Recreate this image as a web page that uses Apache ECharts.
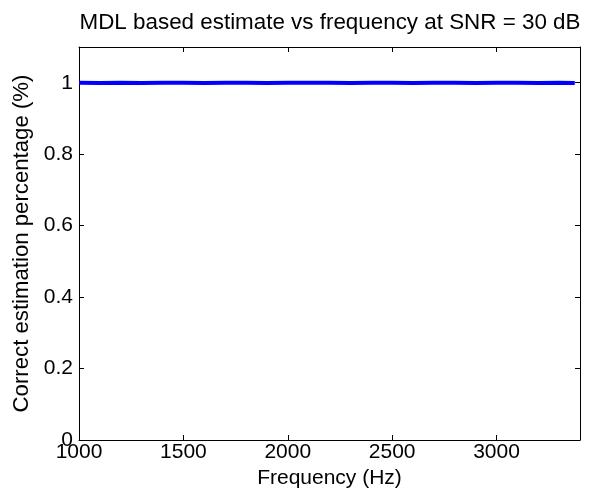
<!DOCTYPE html>
<html>
<head>
<meta charset="utf-8">
<script src="https://cdn.jsdelivr.net/npm/echarts@6/dist/echarts.min.js"></script>
<style>html,body{margin:0;padding:0;background:#fff;}#c{width:592px;height:496px;}</style>
</head>
<body>
<div id="c"></div>
<script>
var frequencies = [1000,1100,1200,1300,1400,1500,1600,1700,1800,1900,2000,2100,2200,2300,2400,2500,2600,2700,2800,2900,3000,3100,3200,3300,3375];
var estimates = [1,0.999,1,0.999,1,1,0.999,1,1,0.999,1,1,1,0.999,1,1,0.999,1,1,0.999,1,1,0.999,1,0.999];
var xTicks = [1000,1500,2000,2500,3000];
var yTicks = [0,0.2,0.4,0.6,0.8,1];

var chart = echarts.init(document.getElementById('c'));
var font = 'Liberation Sans, Arial, sans-serif';
var data = frequencies.map(function(f,i){return [f, estimates[i]];});
var axisLine = {show:true, onZero:false, lineStyle:{color:'#000', width:1}};
var tick = {show:true, inside:true, length:5, lineStyle:{color:'#000', width:1}};
function xFmt(v){ return xTicks.indexOf(Math.round(v))>=0 ? String(Math.round(v)) : ''; }
function yFmt(v){ var r=Math.round(v*10)/10; return yTicks.indexOf(r)>=0 ? String(r) : ''; }
chart.setOption({
  animation:false,
  backgroundColor:'#fff',
  title:{text:'MDL based estimate vs frequency at SNR = 30 dB', left:325, textAlign:'center', top:7,
    textStyle:{fontFamily:font, fontSize:22.4, fontWeight:'normal', color:'#000'}},
  grid:{left:79, right:12, top:47, bottom:56},
  xAxis:[{
    type:'value', position:'bottom', min:1000, max:3400, interval:500,
    name:'Frequency (Hz)', nameLocation:'middle', nameGap:28,
    nameTextStyle:{fontFamily:font, fontSize:21, color:'#000'},
    axisLine:axisLine, axisTick:tick,
    axisLabel:{showMaxLabel:false, fontFamily:font, fontSize:21, color:'#000', margin:2, formatter:xFmt},
    splitLine:{show:false}
  },{
    type:'value', position:'top', min:1000, max:3400, interval:500,
    axisLine:axisLine, axisTick:tick,
    axisLabel:{show:false}, splitLine:{show:false}
  }],
  yAxis:[{
    type:'value', position:'left', min:0, max:1.1, interval:0.2,
    name:'Correct estimation percentage (%)', nameLocation:'middle', nameGap:37,
    nameTextStyle:{fontFamily:font, fontSize:22.2, color:'#000'},
    axisLine:axisLine, axisTick:tick,
    axisLabel:{showMaxLabel:false, fontFamily:font, fontSize:21, color:'#000', margin:6, formatter:yFmt},
    splitLine:{show:false}
  },{
    type:'value', position:'right', min:0, max:1.1, interval:0.2,
    axisLine:axisLine, axisTick:tick,
    axisLabel:{show:false}, splitLine:{show:false}
  }],
  series:[{
    type:'line', data:data, showSymbol:false, symbol:'none',
    xAxisIndex:0, yAxisIndex:0,
    lineStyle:{color:'#0000ff', width:4}, itemStyle:{color:'#0000ff'}
  }]
});
</script>
</body>
</html>
